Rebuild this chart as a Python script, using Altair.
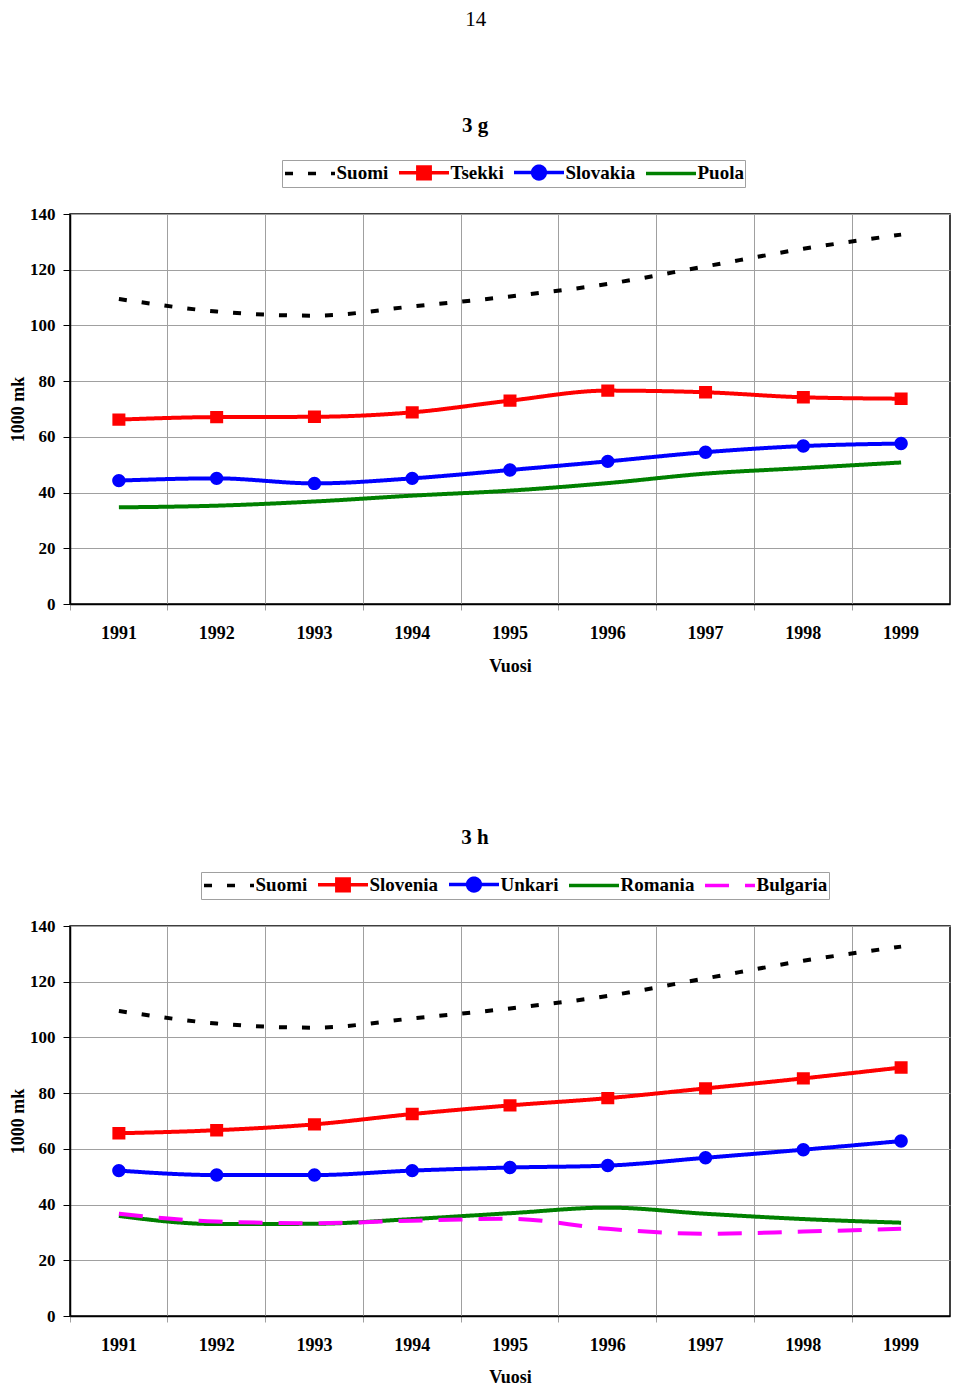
import altair as alt
import pandas as pd

years = ["1991", "1992", "1993", "1994", "1995", "1996", "1997", "1998", "1999"]

# panel 3 g
suomi = [109.5, 105.0, 103.5, 106.8, 110.4, 114.9, 121.2, 127.5, 132.6]
tsekki = [66.2, 67.1, 67.2, 68.8, 73.0, 76.6, 76.0, 74.2, 73.7]
slovakia = [44.3, 45.1, 43.3, 45.1, 48.1, 51.2, 54.5, 56.7, 57.6]
puola = [34.7, 35.3, 36.8, 38.9, 40.7, 43.4, 46.8, 48.8, 50.8]

# panel 3 h
slovenia = [65.6, 66.7, 68.8, 72.5, 75.6, 78.2, 81.7, 85.3, 89.2]
unkari = [52.2, 50.6, 50.6, 52.2, 53.3, 54.0, 56.8, 59.7, 62.8]
romania = [35.9, 33.0, 33.1, 34.8, 36.9, 38.9, 36.7, 34.8, 33.5]
bulgaria = [36.7, 33.9, 33.3, 34.2, 34.9, 31.3, 29.5, 30.3, 31.3]

y_ticks = [0, 20, 40, 60, 80, 100, 120, 140]

# symbol paths (line through + marker); unit = half of sqrt(size).
# zero-length sub-paths at (0,+-0.5) give every legend symbol the same bounds.
PAD = "M0,-0.5L0,-0.5M0,0.5L0,0.5"
LINE_PATH = "M-2.63,0H2.63" + PAD
SQUARE_PATH = "M-2.63,0H2.63M-0.65,-0.62H0.65V0.62H-0.65Z" + PAD
CIRCLE_PATH = "M-2.63,0H2.63M0.67,0A0.67,0.67,0,1,1,-0.67,0A0.67,0.67,0,1,1,0.67,0Z" + PAD

STYLES = {
    "Suomi": {"color": "#000000", "dash": [8, 15], "shape": LINE_PATH, "marker": False},
    "Tsekki": {"color": "#ff0000", "dash": [1, 0], "shape": SQUARE_PATH, "marker": True},
    "Slovakia": {"color": "#0000ff", "dash": [1, 0], "shape": CIRCLE_PATH, "marker": True},
    "Puola": {"color": "#008000", "dash": [1, 0], "shape": LINE_PATH, "marker": False},
    "Slovenia": {"color": "#ff0000", "dash": [1, 0], "shape": SQUARE_PATH, "marker": True},
    "Unkari": {"color": "#0000ff", "dash": [1, 0], "shape": CIRCLE_PATH, "marker": True},
    "Romania": {"color": "#008000", "dash": [1, 0], "shape": LINE_PATH, "marker": False},
    "Bulgaria": {"color": "#ff00ff", "dash": [24, 16], "shape": LINE_PATH, "marker": False},
}

W, H = 880, 390
FONT = "Liberation Serif"


def panel(title, series, legend_x, label_pad, title_pad):
    names = [s[0] for s in series]
    rows = []
    for name, vals in series:
        for yr, v in zip(years, vals):
            rows.append({"year": yr, "series": name, "value": v})
    df = pd.DataFrame(rows)
    markers = [n for n in names if STYLES[n]["marker"]]

    leg = alt.Legend(
        title=None, orient="none", legendX=legend_x, legendY=-54,
        direction="horizontal", symbolSize=361, symbolOffset=15.5,
        symbolStrokeWidth=3.5, labelFont=FONT, labelFontSize=19,
        labelFontWeight="bold", labelColor="black", strokeColor="#a0a0a0",
        fillColor="white", padding=1, columnPadding=3, labelOffset=15,
    )

    x = alt.X(
        "year:O",
        scale=alt.Scale(type="band", paddingInner=0, paddingOuter=0),
        axis=alt.Axis(
            title="Vuosi", bandPosition=0, labelAngle=0,
            grid=True, gridColor="#a0a0a0", tickColor="#a0a0a0", tickSize=6,
            labelPadding=label_pad, titlePadding=title_pad,
        ),
    )
    y = alt.Y(
        "value:Q",
        scale=alt.Scale(domain=[0, 140]),
        axis=alt.Axis(
            title="1000 mk", values=y_ticks, grid=True, gridColor="#a0a0a0",
            tickColor="black", tickSize=7, labelPadding=8, titlePadding=2,
            labelFontSize=17,
        ),
    )
    color = alt.Color("series:N", scale=alt.Scale(domain=names, range=[STYLES[n]["color"] for n in names]), legend=leg)
    dash = alt.StrokeDash("series:N", scale=alt.Scale(domain=names, range=[STYLES[n]["dash"] for n in names]), legend=leg)
    shape = alt.Shape("series:N", scale=alt.Scale(domain=names, range=[STYLES[n]["shape"] for n in names]), legend=leg)

    base = alt.Chart(df)
    line = base.mark_line(strokeWidth=4, interpolate="monotone").encode(
        x=x, y=y, color=color, strokeDash=dash,
    )
    pts = base.mark_point(filled=True, size=400, strokeWidth=0, opacity=1).encode(
        x=x, y=y, color=color, strokeDash=dash, shape=shape,
    ).transform_filter(alt.FieldOneOfPredicate(field="series", oneOf=markers))
    return alt.layer(line, pts).properties(
        width=W, height=H,
        title=alt.TitleParams(title, font=FONT, fontSize=21, fontWeight="bold", color="black",
                              offset=24, anchor="middle", dx=-35),
    )


c1 = panel("3 g", [("Suomi", suomi), ("Tsekki", tsekki), ("Slovakia", slovakia), ("Puola", puola)], 212, 14, 15)
c2 = panel("3 h", [("Suomi", suomi), ("Slovenia", slovenia), ("Unkari", unkari), ("Romania", romania), ("Bulgaria", bulgaria)], 131, 14, 14)

chart = alt.vconcat(c1, c2, spacing=149).resolve_scale(
    color="independent", strokeDash="independent", shape="independent"
).resolve_legend(color="independent", strokeDash="independent", shape="independent").properties(
    padding={"left": 0, "top": 0, "right": 0, "bottom": 0},
    title=alt.TitleParams("14", font=FONT, fontSize=21, fontWeight="normal", color="black",
                          anchor="middle", offset=84, dx=-4),
).configure_view(stroke="black", strokeWidth=1.5).configure_axis(
    labelFont=FONT, labelFontSize=18, labelFontWeight="bold", labelColor="black",
    titleFont=FONT, titleFontSize=18, titleFontWeight="bold", titleColor="black",
    domainColor="black", domainWidth=1.5, gridWidth=1,
)

chart.save("out.html", embed_options={"renderer": "svg", "actions": False})
